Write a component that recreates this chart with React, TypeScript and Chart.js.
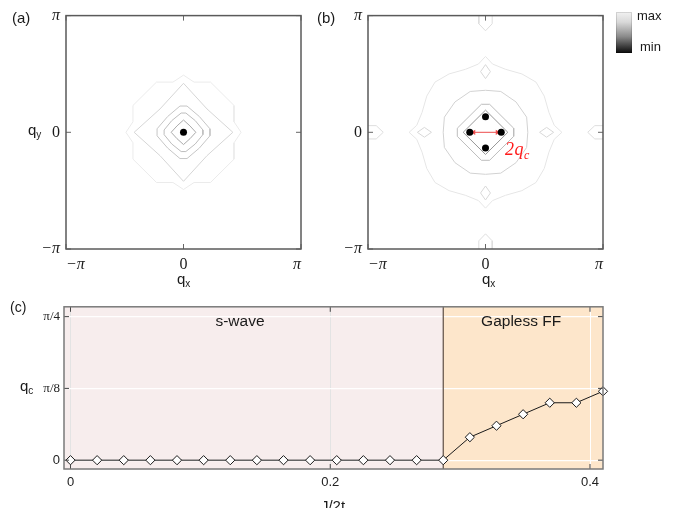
import React, { useEffect, useRef } from 'react';
import { Chart, registerables } from 'chart.js';
Chart.register(...registerables);

type P = [number, number];

// ---------- panel (a): contour lines, coordinates in units of π ----------
const aContour1: P[] = [[0, 0.105], [0.055, 0.055], [0.105, 0], [0.055, -0.055], [0, -0.105], [-0.055, -0.055], [-0.105, 0], [-0.055, 0.055], [0, 0.105]];
const aContour2: P[] = [[-0.02, 0.165], [0.02, 0.165], [0.1, 0.1], [0.165, 0.02], [0.165, -0.02], [0.1, -0.1], [0.02, -0.165], [-0.02, -0.165], [-0.1, -0.1], [-0.165, -0.02], [-0.165, 0.02], [-0.1, 0.1], [-0.02, 0.165]];
const aContour3: P[] = [[-0.03, 0.225], [0.03, 0.225], [0.135, 0.135], [0.225, 0.03], [0.225, -0.03], [0.135, -0.135], [0.03, -0.225], [-0.03, -0.225], [-0.135, -0.135], [-0.225, -0.03], [-0.225, 0.03], [-0.135, 0.135], [-0.03, 0.225]];
const aContour4: P[] = [[0, 0.42], [0.2, 0.2], [0.42, 0], [0.2, -0.2], [0, -0.42], [-0.2, -0.2], [-0.42, 0], [-0.2, 0.2], [0, 0.42]];
const aContour5: P[] = [[0, 0.49], [0.09, 0.43], [0.23, 0.43], [0.43, 0.23], [0.43, 0.09], [0.49, 0], [0.43, -0.09], [0.43, -0.23], [0.23, -0.43], [0.09, -0.43], [0, -0.49], [-0.09, -0.43], [-0.23, -0.43], [-0.43, -0.23], [-0.43, -0.09], [-0.49, 0], [-0.43, 0.09], [-0.43, 0.23], [-0.23, 0.43], [-0.09, 0.43], [0, 0.49]];
const aMinima: P[] = [[0, 0]];

// ---------- panel (b) ----------
const bContour1: P[] = [[0, 0.19], [0.19, 0], [0, -0.19], [-0.19, 0], [0, 0.19]];
const bContour2: P[] = [[-0.035, 0.24], [0.035, 0.24], [0.24, 0.035], [0.24, -0.035], [0.035, -0.24], [-0.035, -0.24], [-0.24, -0.035], [-0.24, 0.035], [-0.035, 0.24]];
const bContour3: P[] = [[0, 0.36], [0.13, 0.35], [0.26, 0.26], [0.35, 0.13], [0.36, 0], [0.35, -0.13], [0.26, -0.26], [0.13, -0.35], [0, -0.36], [-0.13, -0.35], [-0.26, -0.26], [-0.35, -0.13], [-0.36, 0], [-0.35, 0.13], [-0.26, 0.26], [-0.13, 0.35], [0, 0.36]];
const bContour4: P[] = [[0, 0.65], [0.06, 0.585], [0.17, 0.54], [0.31, 0.5], [0.43, 0.43], [0.5, 0.31], [0.54, 0.17], [0.585, 0.06], [0.65, 0], [0.585, -0.06], [0.54, -0.17], [0.5, -0.31], [0.43, -0.43], [0.31, -0.5], [0.17, -0.54], [0.06, -0.585], [0, -0.65], [-0.06, -0.585], [-0.17, -0.54], [-0.31, -0.5], [-0.43, -0.43], [-0.5, -0.31], [-0.54, -0.17], [-0.585, -0.06], [-0.65, 0], [-0.585, 0.06], [-0.54, 0.17], [-0.5, 0.31], [-0.43, 0.43], [-0.31, 0.5], [-0.17, 0.54], [-0.06, 0.585], [0, 0.65]];
const bIslandN: P[] = [[0, 0.58], [0.042, 0.52], [0, 0.46], [-0.042, 0.52], [0, 0.58]];
const bIslandS: P[] = [[0, -0.46], [0.042, -0.52], [0, -0.58], [-0.042, -0.52], [0, -0.46]];
const bIslandE: P[] = [[0.46, 0], [0.52, 0.042], [0.58, 0], [0.52, -0.042], [0.46, 0]];
const bIslandW: P[] = [[-0.46, 0], [-0.52, 0.042], [-0.58, 0], [-0.52, -0.042], [-0.46, 0]];
const bEdgeN: P[] = [[-0.057, 1], [-0.057, 0.93], [0, 0.87], [0.057, 0.93], [0.057, 1]];
const bEdgeS: P[] = [[-0.057, -1], [-0.057, -0.93], [0, -0.87], [0.057, -0.93], [0.057, -1]];
const bEdgeE: P[] = [[1, 0.057], [0.93, 0.057], [0.87, 0], [0.93, -0.057], [1, -0.057]];
const bEdgeW: P[] = [[-1, 0.057], [-0.93, 0.057], [-0.87, 0], [-0.93, -0.057], [-1, -0.057]];
const bMinima: P[] = [[0, 0.134], [-0.134, 0], [0.134, 0], [0, -0.134]];
const bArrow: P[] = [[-0.1, 0], [0.1, 0]];

const qTickValues = [-1, 0, 1];
const qTickLabels = ['−π', '0', 'π'];

// ---------- panel (c) ----------
const jValues = [0, 0.0205, 0.041, 0.0615, 0.082, 0.1025, 0.123, 0.1435, 0.164, 0.1845, 0.205, 0.2255, 0.246, 0.2665, 0.287, 0.3075, 0.328, 0.3485, 0.369, 0.3895, 0.41];
// q_c in units of π/8
const qcValues = [0, 0, 0, 0, 0, 0, 0, 0, 0, 0, 0, 0, 0, 0, 0, 0.32, 0.48, 0.64, 0.8, 0.8, 0.96];
const phaseNames = ['s-wave', 'Gapless FF'];
const phaseStart = [0, 0.287];
const phaseEnd = [0.287, 0.41];
const cXTicks = [0, 0.2, 0.4];
const cXTickLabels = ['0', '0.2', '0.4'];
const cYTicks = [0, 1, 2];
const cYTickLabels = ['0', 'π/8', 'π/4'];

const toXY = (pts: P[]) => pts.map(([x, y]) => ({ x, y }));

const contourDs = (pts: P[], color: string) => ({
  data: toXY(pts),
  showLine: true,
  borderColor: color,
  borderWidth: 1,
  pointRadius: 0,
  tension: 0,
  fill: false,
});

const dotsDs = (pts: P[]) => ({
  data: toXY(pts),
  showLine: false,
  pointRadius: 3.5,
  pointBackgroundColor: '#000',
  pointBorderColor: '#000',
  pointBorderWidth: 0,
});

const frame = (borderColor: string, borderWidth: number, tickLen: number, tickColor: string) => ({
  id: 'frame',
  afterDraw(chart: any) {
    const { ctx, chartArea: a, scales } = chart;
    ctx.save();
    ctx.strokeStyle = tickColor;
    ctx.lineWidth = 1;
    ctx.beginPath();
    scales.x.ticks.forEach((t: any) => {
      const px = scales.x.getPixelForValue(t.value);
      ctx.moveTo(px, a.top); ctx.lineTo(px, a.top + tickLen);
      ctx.moveTo(px, a.bottom); ctx.lineTo(px, a.bottom - tickLen);
    });
    scales.y.ticks.forEach((t: any) => {
      const py = scales.y.getPixelForValue(t.value);
      ctx.moveTo(a.left, py); ctx.lineTo(a.left + tickLen, py);
      ctx.moveTo(a.right, py); ctx.lineTo(a.right - tickLen, py);
    });
    ctx.stroke();
    ctx.strokeStyle = borderColor;
    ctx.lineWidth = borderWidth;
    ctx.strokeRect(a.left, a.top, a.right - a.left, a.bottom - a.top);
    ctx.restore();
  },
});

const qFont = (c: any) => ({
  family: 'Liberation Serif',
  size: 16,
  style: c.tick && c.tick.value !== 0 ? 'italic' : 'normal',
});

function makeQChart(canvas: HTMLCanvasElement, datasets: any[]) {
  return new Chart(canvas, {
    type: 'scatter',
    data: { datasets },
    options: {
      responsive: false,
      animation: false,
      events: [],
      layout: { padding: { left: 0, top: 14, right: 29, bottom: 0 } },
      plugins: { legend: { display: false }, tooltip: { enabled: false } },
      scales: {
        x: {
          type: 'linear', min: -1, max: 1,
          afterBuildTicks: (s: any) => { s.ticks = qTickValues.map((v) => ({ value: v })); },
          afterFit: (s: any) => { s.height = 51; },
          grid: { display: false, drawTicks: false },
          border: { display: false },
          ticks: {
            autoSkip: false, maxRotation: 0, align: 'inner', padding: 6, color: '#1a1a1a',
            font: qFont,
            callback: (v: any) => qTickLabels[qTickValues.indexOf(v)] ?? '',
          },
        },
        y: {
          type: 'linear', min: -1, max: 1,
          afterBuildTicks: (s: any) => { s.ticks = qTickValues.map((v) => ({ value: v })); },
          afterFit: (s: any) => { s.width = 66; },
          grid: { display: false, drawTicks: false },
          border: { display: false },
          ticks: {
            autoSkip: false, padding: 6, color: '#1a1a1a',
            font: qFont,
            callback: (v: any) => qTickLabels[qTickValues.indexOf(v)] ?? '',
          },
        },
      },
    } as any,
    plugins: [frame('#5a5a5a', 1.5, 5, '#666')],
  });
}

const phaseFill = ['#f7eded', '#fde6cb'];
const phaseLabelX = [0.1305, 0.347];

const phasePlugin = {
  id: 'phases',
  beforeDraw(chart: any) {
    const { ctx, chartArea: a, scales } = chart;
    ctx.save();
    phaseStart.forEach((s, i) => {
      const x0 = i === 0 ? a.left : scales.x.getPixelForValue(s);
      const x1 = i === phaseEnd.length - 1 ? a.right : scales.x.getPixelForValue(phaseEnd[i]);
      ctx.fillStyle = phaseFill[i];
      ctx.fillRect(x0, a.top, x1 - x0, a.bottom - a.top);
    });
    ctx.restore();
  },
  beforeDatasetsDraw(chart: any) {
    const { ctx, chartArea: a, scales } = chart;
    ctx.save();
    ctx.strokeStyle = '#5e4e44';
    ctx.lineWidth = 1.2;
    phaseStart.slice(1).forEach((s) => {
      const x = scales.x.getPixelForValue(s);
      ctx.beginPath(); ctx.moveTo(x, a.top); ctx.lineTo(x, a.bottom); ctx.stroke();
    });
    ctx.restore();
  },
  afterDraw(chart: any) {
    const { ctx, chartArea: a, scales } = chart;
    ctx.save();
    ctx.fillStyle = '#1a1a1a';
    ctx.font = '15.5px "Liberation Sans"';
    ctx.textAlign = 'center';
    ctx.textBaseline = 'middle';
    phaseNames.forEach((n, i) => {
      ctx.fillText(n, scales.x.getPixelForValue(phaseLabelX[i]), a.top + 15);
    });
    ctx.restore();
  },
};

function makeCChart(canvas: HTMLCanvasElement) {
  return new Chart(canvas, {
    type: 'scatter',
    data: {
      datasets: [
        {
          data: jValues.map((x, i) => ({ x, y: qcValues[i] })),
          showLine: true,
          borderColor: '#1a1a1a',
          borderWidth: 1,
          pointStyle: 'rectRot',
          pointRadius: 4.6,
          pointBackgroundColor: '#ffffff',
          pointBorderColor: '#1a1a1a',
          pointBorderWidth: 1,
          clip: false,
        },
      ],
    },
    options: {
      responsive: false,
      animation: false,
      events: [],
      layout: { padding: { left: 0, top: 9, right: 73, bottom: 0 } },
      plugins: { legend: { display: false }, tooltip: { enabled: false } },
      scales: {
        x: {
          type: 'linear', min: -0.005, max: 0.41,
          afterBuildTicks: (s: any) => { s.ticks = cXTicks.map((v) => ({ value: v })); },
          afterFit: (s: any) => { s.height = 39; },
          grid: {
            drawTicks: false,
            color: (c: any) => (c.tick && c.tick.value < phaseStart[1] ? '#e3e3e3' : '#ffffff'),
            lineWidth: 1,
          },
          border: { display: false },
          ticks: {
            autoSkip: false, maxRotation: 0, padding: 6, color: '#222',
            font: { family: 'Liberation Sans', size: 13 },
            callback: (v: any) => cXTickLabels[cXTicks.indexOf(v)] ?? '',
          },
        },
        y: {
          type: 'linear', min: -0.123, max: 2.137,
          afterBuildTicks: (s: any) => { s.ticks = cYTicks.map((v) => ({ value: v })); },
          afterFit: (s: any) => { s.width = 64; },
          grid: { drawTicks: false, color: 'rgba(255,255,255,0.95)', lineWidth: 1.2 },
          border: { display: false },
          ticks: {
            autoSkip: false, padding: 4, color: '#222',
            font: (c: any) => (c.tick && c.tick.value === 0
              ? { family: 'Liberation Sans', size: 13 }
              : { family: 'Liberation Serif', size: 13 }),
            callback: (v: any) => cYTickLabels[cYTicks.indexOf(v)] ?? '',
          },
        },
      },
    } as any,
    plugins: [phasePlugin, frame('#7a7a7a', 1.5, 5, '#444')],
  });
}

const txt: React.CSSProperties = {
  position: 'absolute', whiteSpace: 'nowrap', lineHeight: 1,
  fontFamily: '"Liberation Sans", Arial, sans-serif', color: '#1a1a1a',
};
const sub = (s: string, size = 10, top = 3) => (
  <span style={{ fontSize: size, position: 'relative', top }}>{s}</span>
);

export default function App() {
  const refA = useRef<HTMLCanvasElement>(null);
  const refB = useRef<HTMLCanvasElement>(null);
  const refC = useRef<HTMLCanvasElement>(null);

  useEffect(() => {
    const a = makeQChart(refA.current!, [
      contourDs(aContour5, '#ebebeb'),
      contourDs(aContour4, '#d6d6d6'),
      contourDs(aContour3, '#c6c6c6'),
      contourDs(aContour2, '#bdbdbd'),
      contourDs(aContour1, '#aaaaaa'),
      dotsDs(aMinima),
    ]);
    const b = makeQChart(refB.current!, [
      contourDs(bEdgeN, '#dedede'),
      contourDs(bEdgeS, '#dedede'),
      contourDs(bEdgeE, '#dedede'),
      contourDs(bEdgeW, '#dedede'),
      contourDs(bContour4, '#e6e6e6'),
      contourDs(bIslandN, '#d8d8d8'),
      contourDs(bIslandS, '#d8d8d8'),
      contourDs(bIslandE, '#d8d8d8'),
      contourDs(bIslandW, '#d8d8d8'),
      contourDs(bContour3, '#d2d2d2'),
      contourDs(bContour2, '#bdbdbd'),
      contourDs(bContour1, '#979797'),
      dotsDs(bMinima),
      {
        data: toXY(bArrow),
        showLine: true,
        borderColor: '#f07070',
        borderWidth: 1.2,
        pointStyle: 'triangle',
        pointRadius: 3,
        pointRotation: [270, 90],
        pointBackgroundColor: '#f05050',
        pointBorderColor: '#f05050',
        pointBorderWidth: 0,
      },
    ]);
    const c = makeCChart(refC.current!);
    return () => { a.destroy(); b.destroy(); c.destroy(); };
  }, []);

  return (
    <div style={{ position: 'absolute', left: 0, top: 0, width: 676, height: 508, overflow: 'hidden', background: '#fff' }}>
      <canvas ref={refA} width={330} height={300} style={{ position: 'absolute', left: 0, top: 0 }} />
      <canvas ref={refB} width={330} height={300} style={{ position: 'absolute', left: 302, top: 0 }} />
      <canvas ref={refC} width={676} height={213} style={{ position: 'absolute', left: 0, top: 295 }} />

      <div style={{ ...txt, left: 12, top: 10, fontSize: 15 }}>(a)</div>
      <div style={{ ...txt, left: 317, top: 10, fontSize: 15 }}>(b)</div>
      <div style={{ ...txt, left: 10, top: 300, fontSize: 14 }}>(c)</div>

      <div style={{ ...txt, left: 28, top: 122, fontSize: 15 }}>q{sub('y')}</div>
      <div style={{ ...txt, left: 177, top: 271, fontSize: 15 }}>q{sub('x')}</div>
      <div style={{ ...txt, left: 482, top: 271, fontSize: 15 }}>q{sub('x')}</div>
      <div style={{ ...txt, left: 20, top: 378, fontSize: 15 }}>q{sub('c')}</div>
      <div style={{ ...txt, left: 333, top: 498, fontSize: 15, transform: 'translateX(-50%)' }}>J/2t</div>

      <div
        style={{
          position: 'absolute', left: 616, top: 12, width: 16, height: 41,
          background: 'linear-gradient(to bottom, #f2f2f2 0%, #d8d8d8 25%, #8a8a8a 60%, #0a0a0a 100%)',
          boxShadow: 'inset 0 0 0 1px rgba(0,0,0,0.12)',
        }}
      />
      <div style={{ ...txt, left: 637, top: 9, fontSize: 13 }}>max</div>
      <div style={{ ...txt, left: 640, top: 40, fontSize: 13 }}>min</div>

      <div style={{ ...txt, left: 505, top: 140, fontSize: 18, color: '#ff1a1a', fontFamily: '"Liberation Serif", serif', fontStyle: 'italic', letterSpacing: 0.5 }}>
        2q{sub('c', 12, 4)}
      </div>
    </div>
  );
}
